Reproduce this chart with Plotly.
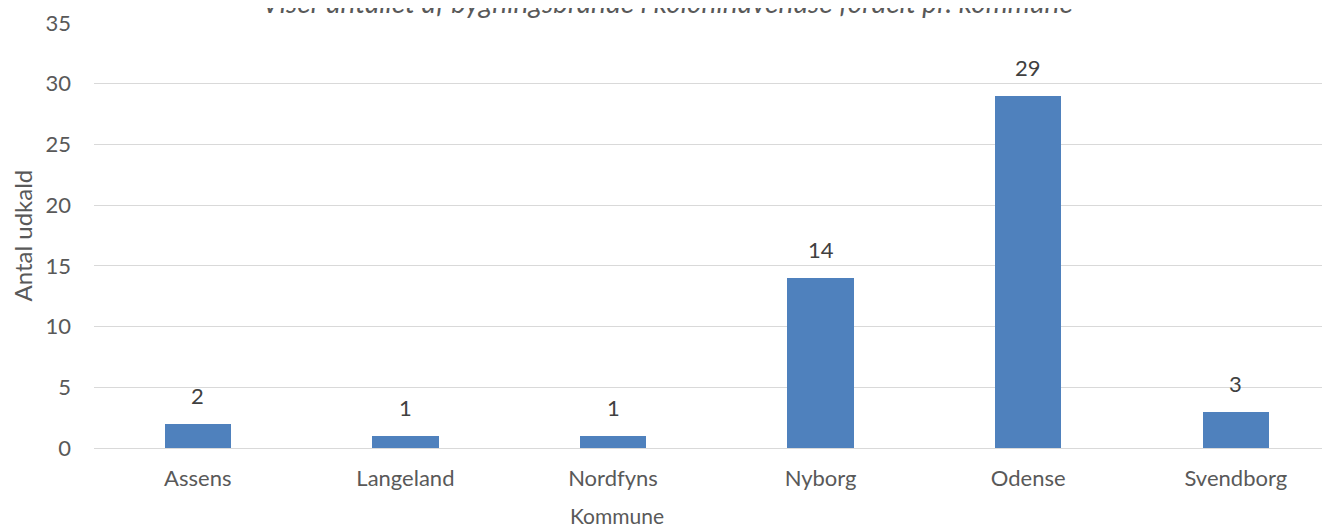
import plotly.graph_objects as go

kommuner = ["Assens", "Langeland", "Nordfyns", "Nyborg", "Odense", "Svendborg"]
udkald = [2, 1, 1, 14, 29, 3]
y_ticks = [0, 5, 10, 15, 20, 25, 30, 35]

title_text = "Viser antallet af bygningsbrande i kolonihavehuse fordelt pr. kommune"
font_family = "Lato, Open Sans, sans-serif"

fig = go.Figure(go.Bar(
    x=kommuner, y=udkald, width=0.32,
    marker=dict(color="#4f81bd", line=dict(width=0)),
    hoverinfo="x+y",
))

# data labels placed above each bar, from the data arrays
label_annots = [
    dict(x=k, y=v, xref="x", yref="y", text=str(v), showarrow=False,
         xanchor="center", yanchor="bottom", yshift=13,
         font=dict(size=22, color="#404040", family=font_family))
    for k, v in zip(kommuner, udkald)
]

W, H = 1330, 524
ml, mr, mt, mb = 86, 0, 15, 84
pw = W - ml - mr
ph = H - mt - mb
fig.update_layout(
    width=W, height=H,
    margin=dict(l=ml, r=mr, t=mt, b=mb),
    plot_bgcolor="white", paper_bgcolor="white",
    showlegend=False, bargap=0,
    font=dict(family=font_family, color="#595959", size=22),
    xaxis=dict(range=[-0.5, -0.5 + pw / 207.6], showgrid=False, showline=False, zeroline=False,
               ticks="", tickfont=dict(size=22, color="#595959"), ticklabelstandoff=15),
    yaxis=dict(range=[0, 35], tickvals=y_ticks, showgrid=True, gridcolor="#d9d9d9",
               gridwidth=1, zeroline=True, zerolinecolor="#d9d9d9", zerolinewidth=1,
               showline=False, ticks="", tickfont=dict(size=22, color="#595959"),
               ticklabelstandoff=22),
    annotations=label_annots + [
        dict(text="<i>" + title_text + "</i>", xref="paper", yref="paper",
             x=(659 - ml) / pw, y=1 + (15 - 12.6) / ph, xanchor="center", yanchor="bottom",
             showarrow=False, font=dict(size=28, color="#595959", family=font_family)),
        dict(text="Kommune", xref="paper", yref="paper",
             x=(609 - ml) / pw, y=-(493 - 440) / ph, xanchor="center", yanchor="top",
             showarrow=False, font=dict(size=21, color="#595959", family=font_family)),
        dict(text="Antal udkald", xref="paper", yref="paper", textangle=-90,
             x=-(ml - 14) / pw, y=0.5, xanchor="center", yanchor="middle",
             showarrow=False, font=dict(size=24, color="#595959", family=font_family)),
    ],
)

fig.write_html("out.html")
